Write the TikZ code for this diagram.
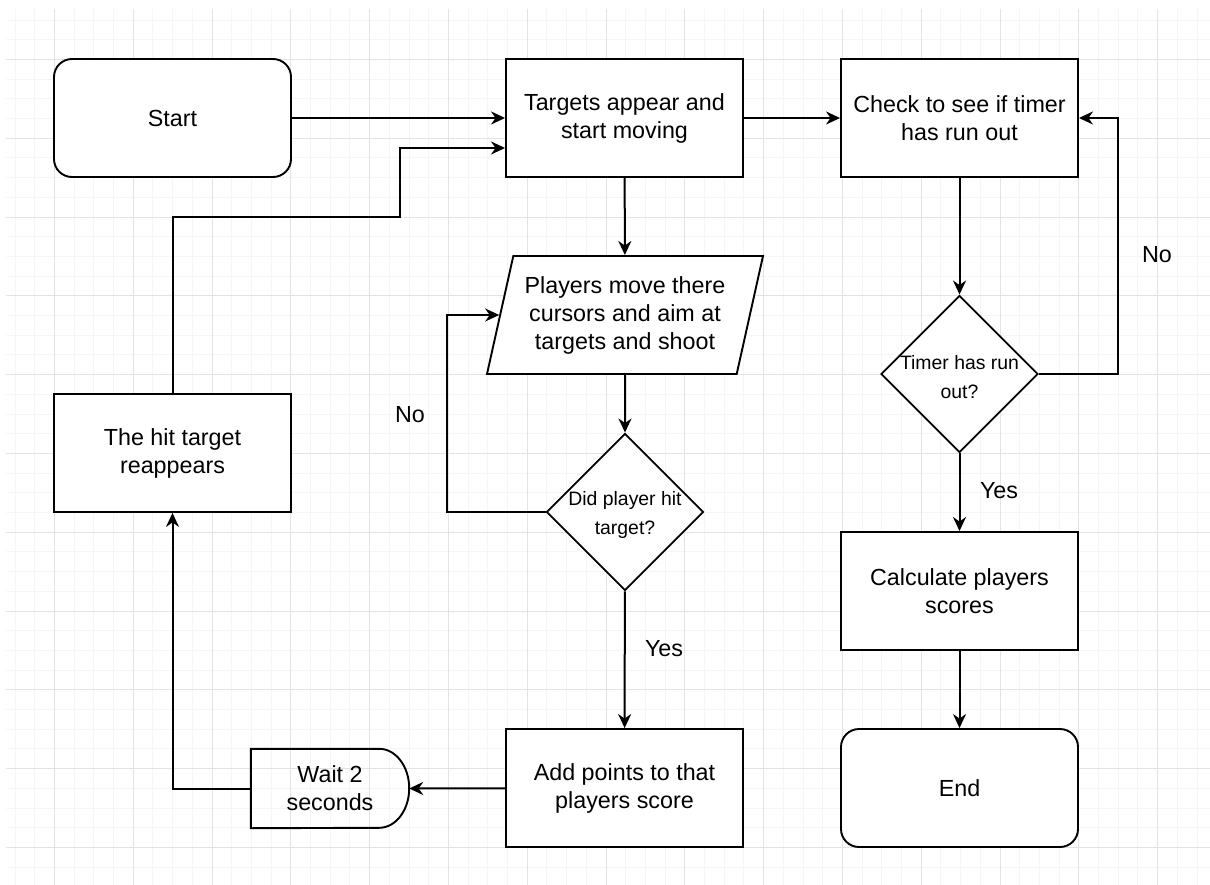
\documentclass[tikz,border=0pt]{standalone}
\usepackage{fontspec}
\setmainfont{Liberation Sans}
\usetikzlibrary{arrows.meta,shapes.geometric}
\newcommand\boxfont{\fontsize{23.3}{28}\selectfont}
\newcommand\decfont{\fontsize{19.4}{29.5}\selectfont}
\tikzset{
  minorgrid/.style={draw=black!4, line width=1pt},
  majorgrid/.style={draw=black!11, line width=1.2pt},
  procbox/.style={draw, line width=1.9pt, fill=white, minimum width=237pt,
    minimum height=118pt, align=center, inner sep=0pt, font=\boxfont},
  termbox/.style={procbox, rounded corners=18pt},
  iobox/.style={draw, line width=1.9pt, fill=white, trapezium,
    trapezium left angle=71.3, trapezium right angle=108.7,
    trapezium stretches body, minimum width=276pt, minimum height=118pt,
    inner sep=0pt, align=center, font=\boxfont},
  decbox/.style={draw, line width=1.9pt, fill=white, diamond, aspect=1,
    minimum width=157pt, minimum height=157pt, inner sep=0pt},
  dectext/.style={align=center, font=\decfont, inner sep=0pt},
  lbl/.style={font=\boxfont, inner sep=0pt},
  arr/.style={line width=2pt, -{Stealth[length=14pt,width=13pt,inset=4.5pt]}},
}
\begin{document}
\begin{tikzpicture}[x=1pt,y=-1pt]
\useasboundingbox[fill=white] (0,0) rectangle (1210,885);

% background grid, lines snapped to pixel centres
\begin{scope}
  \clip (6,9) rectangle (1210,885);
  \foreach \i in {-2,...,59} \draw[minorgrid] ({round(54+19.7*\i)+0.5},9) -- ({round(54+19.7*\i)+0.5},885);
  \foreach \i in {-2,...,43} \draw[minorgrid] (6,{round(59+19.7*\i)+0.5}) -- (1210,{round(59+19.7*\i)+0.5});
  \foreach \i in {0,...,15} \draw[majorgrid] ({round(54+78.8*\i)+0.5},9) -- ({round(54+78.8*\i)+0.5},885);
  \foreach \i in {0,...,11} \draw[majorgrid] (6,{round(59+78.8*\i)+0.5}) -- (1210,{round(59+78.8*\i)+0.5});
\end{scope}

% nodes
\node[termbox] (start) at (172.5,118) {Start};
\node[procbox] (targets) at (624.5,118) {Targets appear and\\start moving};
\node[procbox] (check) at (959.5,118) {Check to see if timer\\has run out};
\node[iobox] (io) at (625,315) {Players move there\\cursors and aim at\\targets and shoot};
\node[decbox] (d1) at (625,512) {};
\node[dectext] (d1t) at (625,515) {Did player hit\\target?};
\node[decbox] (d2) at (959.5,374) {};
\node[dectext] (d2t) at (959.5,377) {Timer has run\\out?};
\node[procbox] (calc) at (959.5,591) {Calculate players\\scores};
\node[termbox] (end) at (959.5,788) {End};
\node[procbox] (addpts) at (624.5,788) {Add points to that\\players score};
\node[procbox] (hit) at (172.5,453) {The hit target\\reappears};

% delay shape
\node[minimum width=158pt, minimum height=79pt, inner sep=0pt, align=center, font=\boxfont] (wait) at (330,788.5) {Wait 2\\seconds};
\draw[line width=1.9pt] (wait.south west) -- (wait.north west)
  -- ([xshift=-30pt]wait.north east)
  arc[start angle=90, end angle=-90, x radius=30pt, y radius=39.5pt] -- cycle;

% connectors
\coordinate (bend1) at (400,217);
\draw[arr] (start) -- (targets);
\draw[arr] (targets) -- (check);
\draw[arr] (targets) -- (io);
\draw[arr] (io) -- (d1);
\draw[arr] (d1.west) -- ++(-99,0) |- (io.west);
\draw[arr] (d1) -- (addpts);
\draw[arr] (addpts) -- (wait.east);
\draw[arr] (wait.west) -| (hit.south);
\draw[arr] (hit.north) |- (bend1) |- ([yshift=-30pt]targets.west);
\draw[arr] (check) -- (d2);
\draw[arr] (d2.east) -- ++(79,0) |- (check.east);
\draw[arr] (d2) -- (calc);
\draw[arr] (calc) -- (end);

% branch labels
\node[lbl] (no1) at (410,415) {No};
\node[lbl] (yes1) at (664,649) {Yes};
\node[lbl] (no2) at (1157,255) {No};
\node[lbl] (yes2) at (999,491) {Yes};
\end{tikzpicture}
\end{document}
